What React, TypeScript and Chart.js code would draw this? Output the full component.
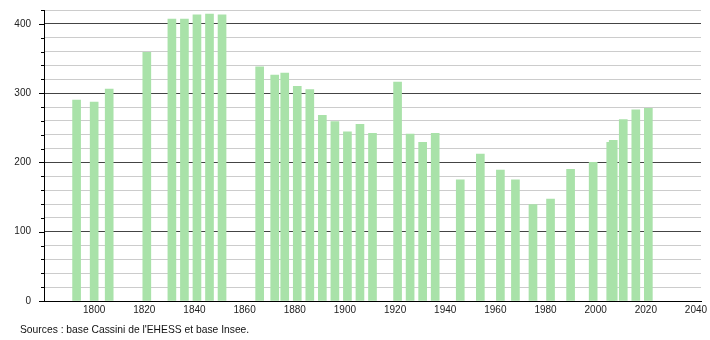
import React, { useEffect, useRef } from "react";
import { Chart, registerables } from "chart.js";

Chart.register(...registerables);

const years = [1793, 1800, 1806, 1821, 1831, 1836, 1841, 1846, 1851, 1866, 1872, 1876, 1881, 1886, 1891, 1896, 1901, 1906, 1911, 1921, 1926, 1931, 1936, 1946, 1954, 1962, 1968, 1975, 1982, 1990, 1999, 2006, 2007, 2011, 2016, 2021];
const population = [290, 287, 306, 359, 407, 407, 413, 414, 413, 338, 326, 329, 310, 305, 268, 259, 244, 255, 242, 316, 241, 229, 242, 175, 212, 189, 175, 139, 147, 190, 200, 229, 232, 262, 276, 278];
const xTickYears = [1800, 1820, 1840, 1860, 1880, 1900, 1920, 1940, 1960, 1980, 2000, 2020, 2040];
const sourceText = "Sources : base Cassini de l'EHESS et base Insee.";

const FONT = "'Liberation Sans', Arial, Helvetica, sans-serif";

export default function App() {
  const ref = useRef<HTMLCanvasElement>(null);

  useEffect(() => {
    document.body.style.margin = "0";
    const canvas = ref.current;
    if (!canvas) return;

    const yTickPlugin = {
      id: "yTickMarks",
      afterDraw(chart: any) {
        const s = chart.scales.y;
        const ctx = chart.ctx;
        ctx.save();
        ctx.strokeStyle = "#000";
        ctx.lineWidth = 1;
        s.ticks.forEach((t: any) => {
          const y = Math.round(s.getPixelForValue(t.value)) + 0.5;
          const len = t.value % 100 === 0 ? 5 : 3;
          ctx.beginPath();
          ctx.moveTo(chart.chartArea.left - len, y);
          ctx.lineTo(chart.chartArea.left, y);
          ctx.stroke();
        });
        ctx.restore();
      },
    };

    const chart = new Chart(canvas, {
      type: "bar",
      data: {
        datasets: [
          {
            data: years.map((y, i) => ({ x: y, y: population[i] })),
            backgroundColor: "#a9e2a9",
            borderWidth: 0,
            barThickness: 8,
          },
        ],
      },
      options: {
        responsive: false,
        animation: false,
        layout: { padding: { left: 0, right: 9, top: 10, bottom: 19 } },
        plugins: {
          legend: { display: false },
          tooltip: { enabled: false },
        },
        scales: {
          x: {
            type: "linear",
            min: 1780,
            max: 2042,
            offset: false,
            grid: { display: false, drawTicks: false },
            border: { display: true, color: "#000", width: 1 },
            afterBuildTicks: (scale: any) => {
              scale.ticks = xTickYears.map((v) => ({ value: v }));
            },
            afterFit: (scale: any) => {
              scale.height = 20;
              scale.paddingLeft = 0;
              scale.paddingRight = 0;
            },
            ticks: {
              autoSkip: false,
              maxRotation: 0,
              padding: 3,
              color: "#222",
              font: { family: FONT, size: 10 },
              callback: (v: any) => String(v),
            },
          },
          y: {
            min: 0,
            max: 420,
            grid: {
              drawTicks: false,
              color: (ctx: any) =>
                ctx.tick && ctx.tick.value % 100 === 0 && ctx.tick.value !== 0 ? "#444" : "#cccccc",
              lineWidth: 1,
            },
            border: { display: true, color: "#000", width: 1 },
            afterFit: (scale: any) => {
              scale.width = 44;
              scale.paddingTop = 0;
              scale.paddingBottom = 0;
            },
            ticks: {
              stepSize: 20,
              autoSkip: false,
              padding: 13,
              color: "#222",
              font: { family: FONT, size: 10 },
              callback: (v: any) => (Number(v) % 100 === 0 ? String(v) : ""),
            },
          },
        },
      },
      plugins: [yTickPlugin],
    });

    return () => chart.destroy();
  }, []);

  return (
    <div style={{ position: "relative", width: 710, height: 340, background: "#fff" }}>
      <canvas ref={ref} width={710} height={340} style={{ display: "block" }} />
      <div
        style={{
          position: "absolute",
          left: 20,
          top: 323,
          fontFamily: FONT,
          fontSize: 10.3,
          color: "#111",
          whiteSpace: "nowrap",
          lineHeight: "14px",
        }}
      >
        {sourceText}
      </div>
    </div>
  );
}
